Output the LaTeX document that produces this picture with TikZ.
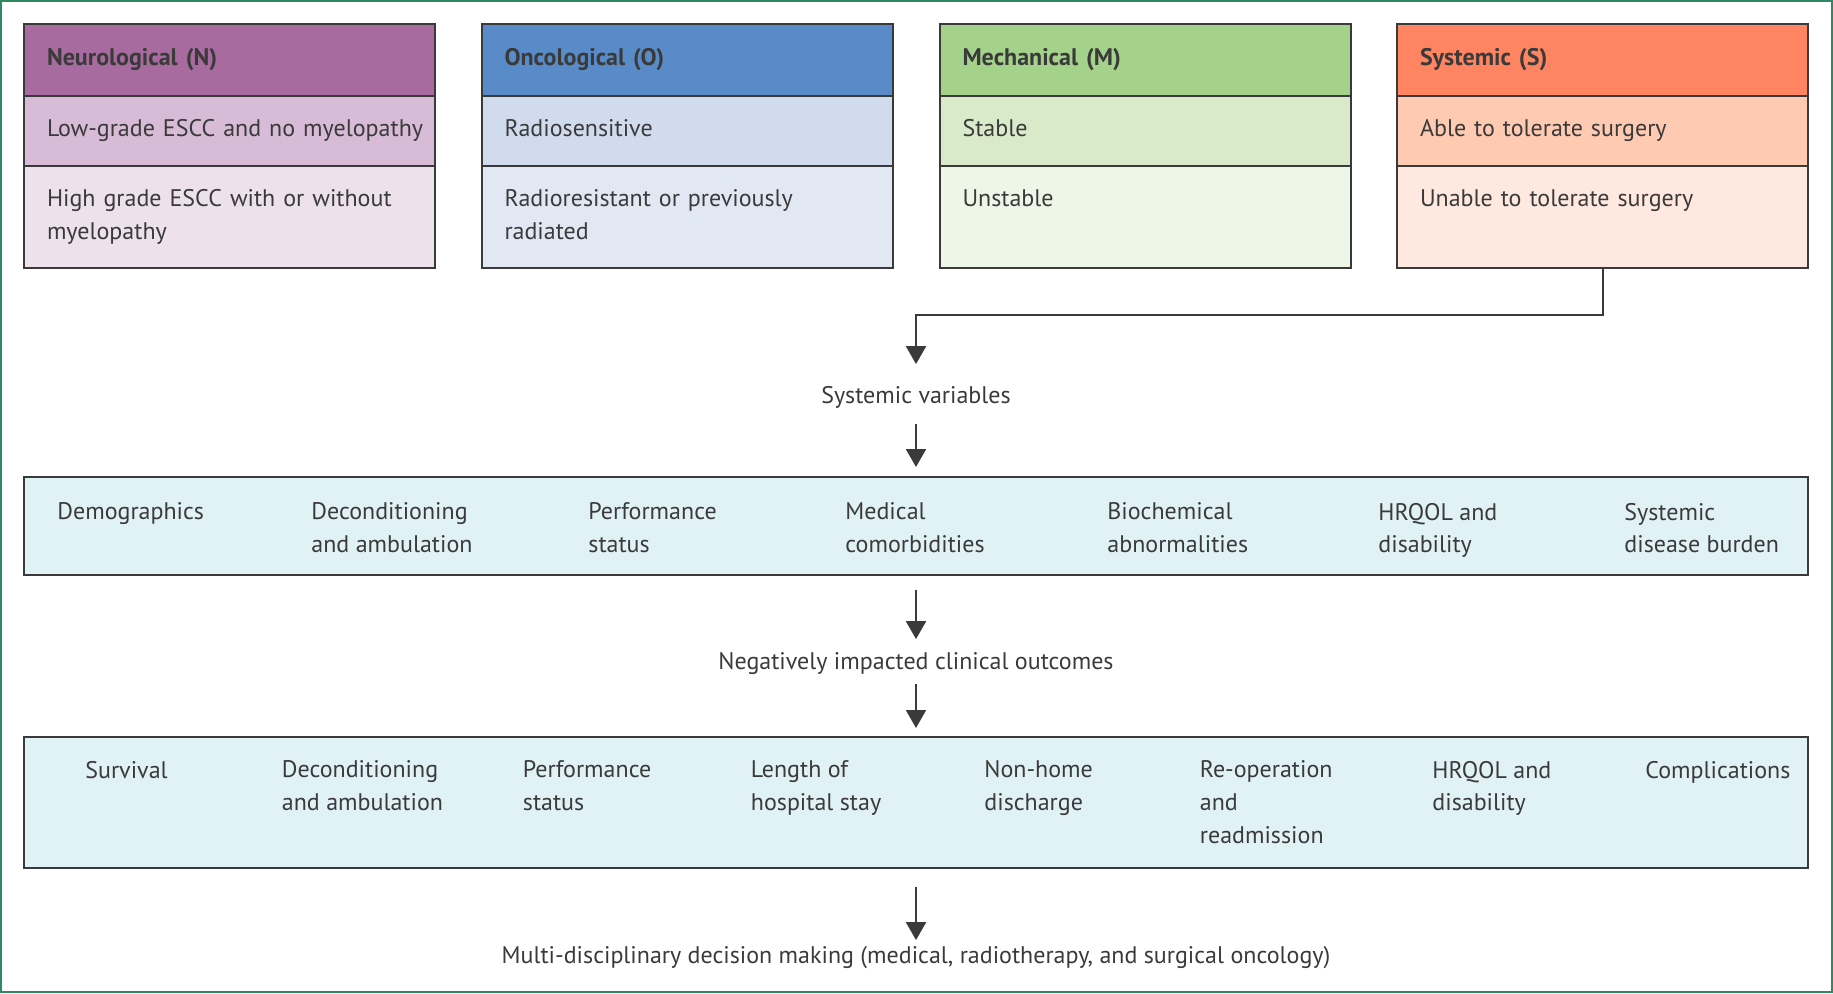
\documentclass[tikz,border=0pt]{standalone}
\usepackage{fontspec}
\setmainfont{PT Sans}
\usepackage{xcolor}
\usetikzlibrary{arrows.meta}

\definecolor{framegreen}{HTML}{2F8A63}
\definecolor{ink}{HTML}{3A3A3A}
\definecolor{ndark}{HTML}{A86BA0}
\definecolor{nmid}{HTML}{D8BBD6}
\definecolor{nlight}{HTML}{EDE2EC}
\definecolor{odark}{HTML}{588BC7}
\definecolor{omid}{HTML}{D0DCEE}
\definecolor{olight}{HTML}{E2E8F3}
\definecolor{mdark}{HTML}{A5D28B}
\definecolor{mmid}{HTML}{D9EACA}
\definecolor{mlight}{HTML}{EDF6E7}
\definecolor{sdark}{HTML}{FF8562}
\definecolor{smid}{HTML}{FFCAB2}
\definecolor{slight}{HTML}{FEE8DF}
\definecolor{listfill}{HTML}{E1F2F7}

\newcommand{\txtfont}{\fontsize{12}{16.4}\selectfont}

\tikzset{
	cell/.style={draw=ink, line width=1pt, outer sep=0pt, anchor=north west,
		minimum width=205.5pt, text width=182.5pt, inner xsep=11.5pt,
		align=left, text=ink, font=\txtfont},
	headcell/.style={cell, minimum height=36pt, font=\txtfont\bfseries},
	midcell/.style={cell, minimum height=35pt, text height=8.6pt, text depth=3.6pt},
	lowcell/.style={cell, inner ysep=11.75pt, text height=8.6pt, text depth=18.9pt},
	listbox/.style={draw=ink, line width=1pt, outer sep=0pt, anchor=north west,
		fill=listfill, minimum width=892pt},
	item/.style={anchor=north west, align=left, inner sep=0pt, text=ink, font=\txtfont},
	lbl/.style={inner sep=0pt, text height=8.6pt, text depth=2.4pt, text=ink, font=\txtfont},
	arr/.style={draw=ink, line width=1pt, -{Triangle[width=10pt,length=9pt]}}
}

\begin{document}
\begin{tikzpicture}[x=0.5pt,y=-0.5pt]
	 \useasboundingbox (0,0) rectangle (1833,993);
	 \draw[framegreen, line width=1pt] (1,1) rectangle (1832,992);

	 % N O M S columns
	 \node (nhead) [headcell, fill=ndark] at (24,24) {Neurological (N)};
	 \node (nmid) [midcell, fill=nmid] at (24,96) {\mbox{Low-grade ESCC and no myelopathy}};
	 \node (nbot) [lowcell, fill=nlight] at (24,166) {High grade ESCC with or without\\myelopathy};
	 \node (ohead) [headcell, fill=odark] at (481.5,24) {Oncological (O)};
	 \node (omid) [midcell, fill=omid] at (481.5,96) {Radiosensitive};
	 \node (obot) [lowcell, fill=olight] at (481.5,166) {Radioresistant or previously\\radiated};
	 \node (mhead) [headcell, fill=mdark] at (939.5,24) {Mechanical (M)};
	 \node (mmid) [midcell, fill=mmid] at (939.5,96) {Stable};
	 \node (mbot) [lowcell, fill=mlight] at (939.5,166) {Unstable};
	 \node (shead) [headcell, fill=sdark] at (1397,24) {Systemic (S)};
	 \node (smid) [midcell, fill=smid] at (1397,96) {Able to tolerate surgery};
	 \node (sbot) [lowcell, fill=slight] at (1397,166) {Unable to tolerate surgery};

	 \coordinate (bend) at (916,314.5);
	 \node (sysvar) [lbl] at (916,397.5) {Systemic variables};

	 % systemic variables
	 \node (sysbox) [listbox, minimum height=49pt] at (24,477) {};
	 \node (demog) [item] at (57,502.5) {Demographics};
	 \node (decond) [item] at (311,502.5) {Deconditioning\\and ambulation};
	 \node (perf) [item] at (588,502.5) {Performance\\status};
	 \node (comorb) [item] at (845,502.5) {Medical\\comorbidities};
	 \node (biochem) [item] at (1107,502.5) {Biochemical\\abnormalities};
	 \node (hrqol) [item] at (1378,502.5) {HRQOL and\\disability};
	 \node (burden) [item] at (1624,502.5) {Systemic\\disease burden};

	 \node (negout) [lbl] at (916,663) {Negatively impacted clinical outcomes};

	 % outcomes
	 \node (outbox) [listbox, minimum height=65.5pt] at (24,736.5) {};
	 \node (surv) [item] at (85,760.5) {Survival};
	 \node (decond2) [item] at (281.5,760.5) {Deconditioning\\and ambulation};
	 \node (perf2) [item] at (522.5,760.5) {Performance\\status};
	 \node (stay) [item] at (750.5,760.5) {Length of\\hospital stay};
	 \node (nonhome) [item] at (984,760.5) {Non-home\\discharge};
	 \node (reop) [item] at (1199.5,760.5) {Re-operation\\and\\readmission};
	 \node (hrqol2) [item] at (1432,760.5) {HRQOL and\\disability};
	 \node (compl) [item] at (1645,760.5) {Complications};

	 \node (mdt) [lbl] at (916,957.5) {Multi-disciplinary decision making (medical, radiotherapy, and surgical oncology)};

	 \draw[arr, shorten >=11pt] (sbot.south) |- (bend) -- (sysvar);
	 \draw[arr, shorten <=7.5pt, shorten >=5pt] (sysvar) -- (sysbox);
	 \draw[arr, shorten <=7.5pt, shorten >=6.25pt] (sysbox) -- (negout);
	 \draw[arr, shorten <=5pt, shorten >=4.25pt] (negout) -- (outbox);
	 \draw[arr, shorten <=9.6pt, shorten >=3pt] (outbox) -- (mdt);
\end{tikzpicture}
\end{document}
